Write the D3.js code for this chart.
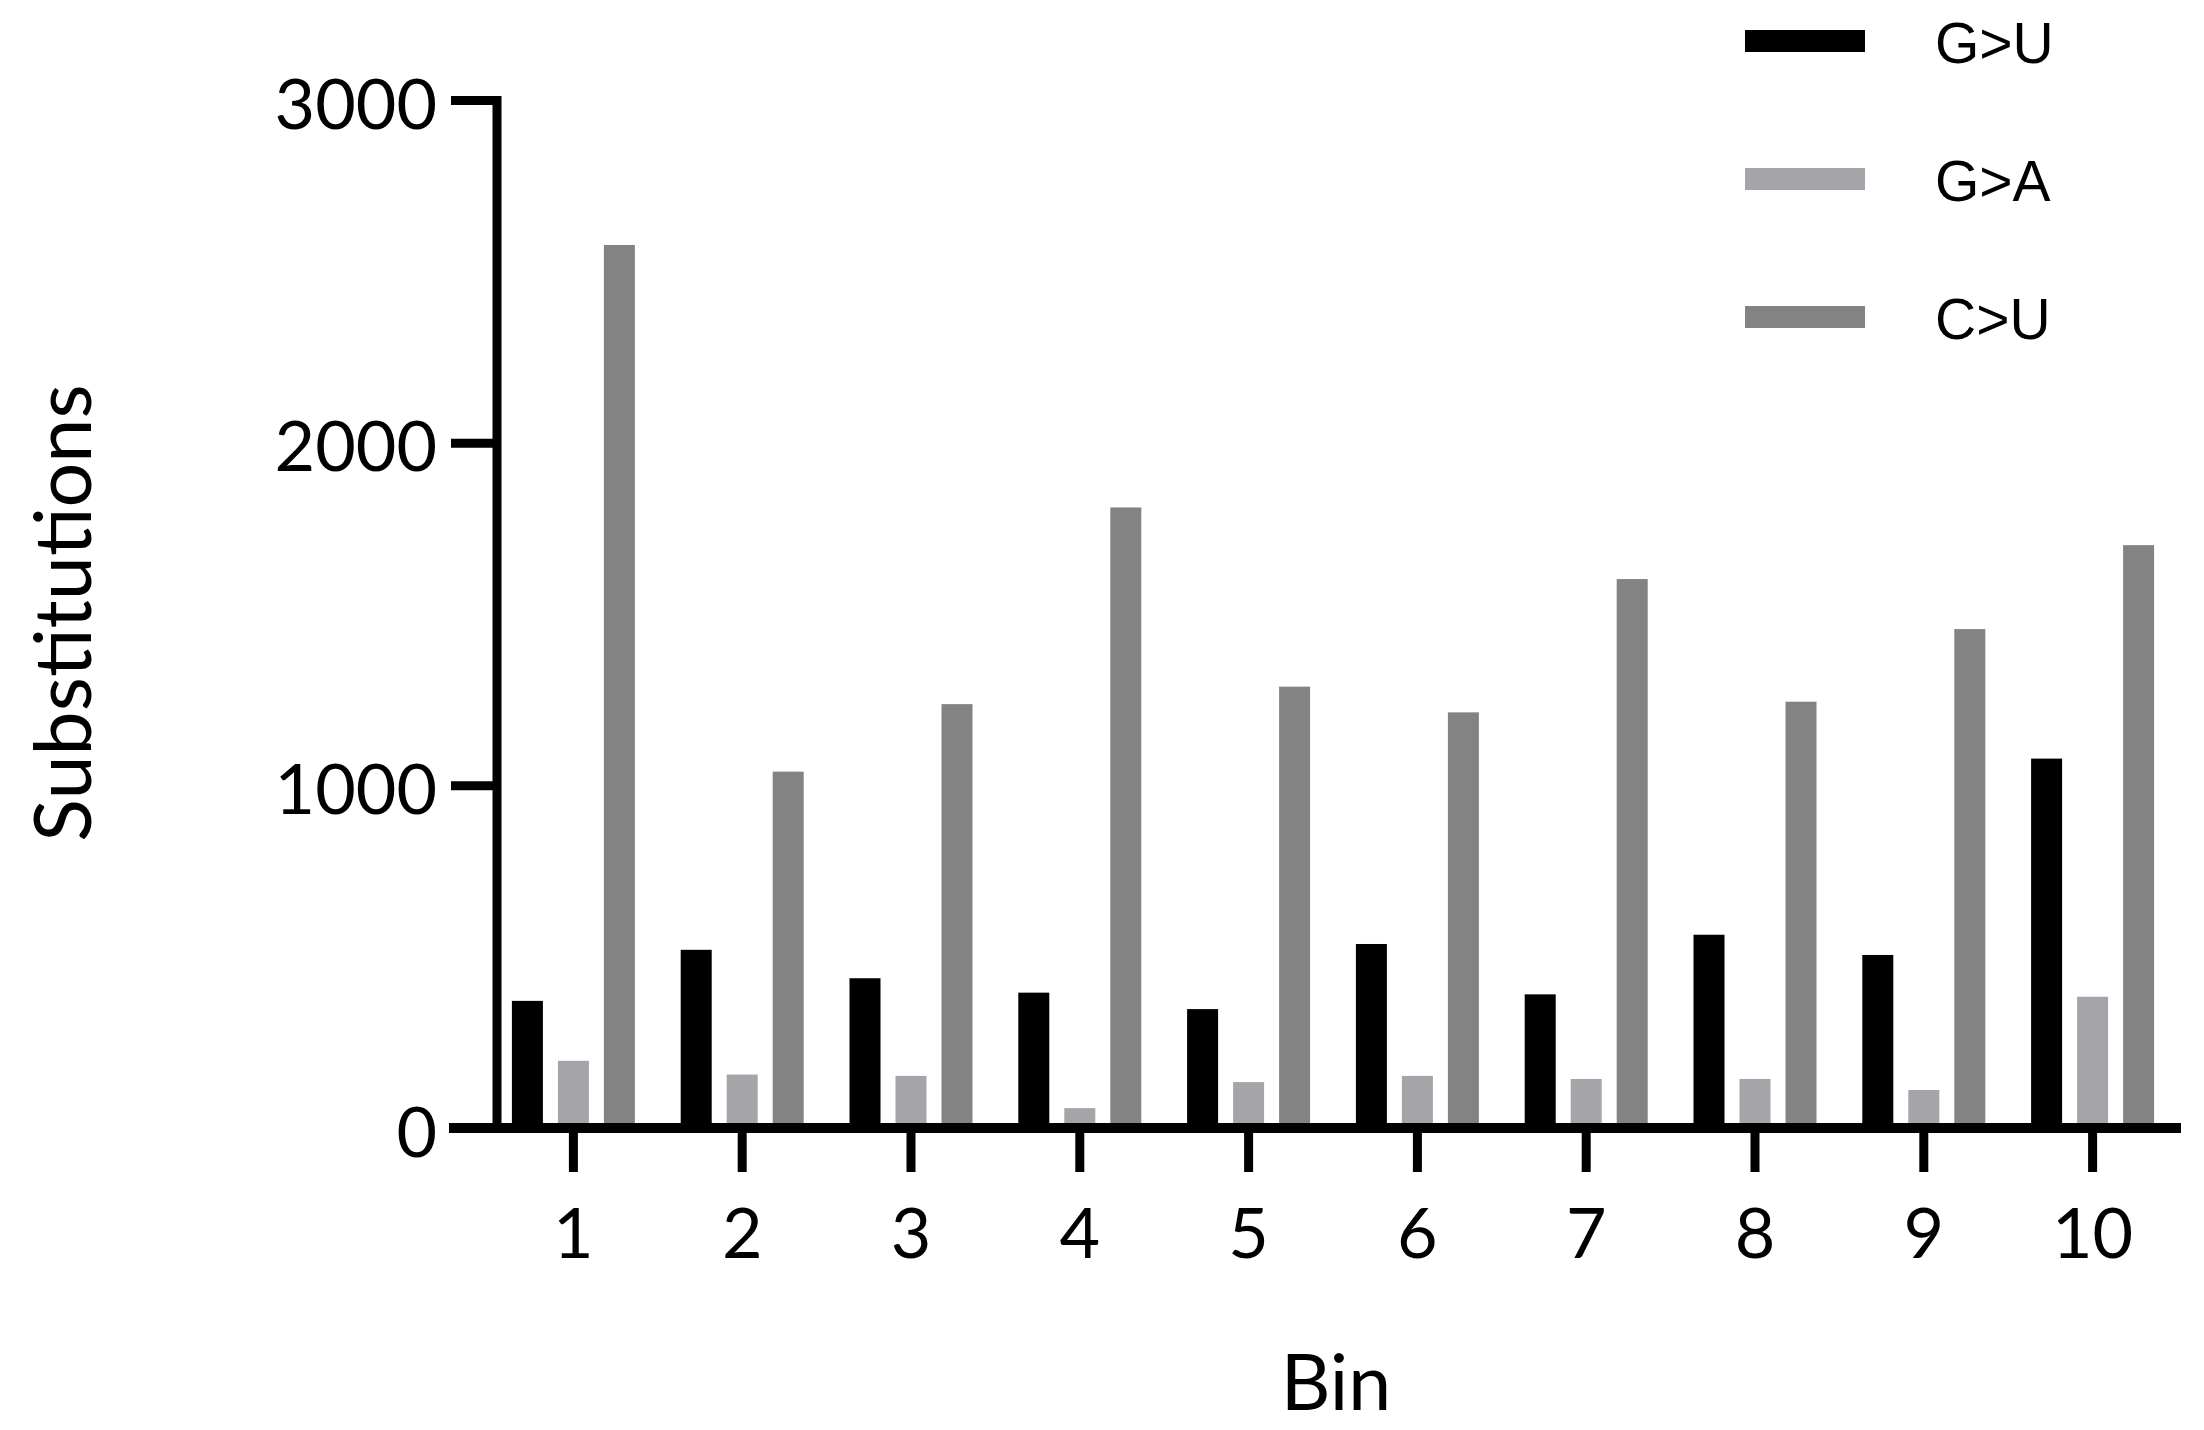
<!DOCTYPE html>
<html>
<head>
<meta charset="utf-8">
<script src="https://cdn.jsdelivr.net/npm/d3@7"></script>
<style>
  body { margin: 0; background: #fff; }
</style>
</head>
<body>
<div id="chart"></div>
<script>
// values
var bins = ["1", "2", "3", "4", "5", "6", "7", "8", "9", "10"];
var seriesNames = ["G>U", "G>A", "C>U"];
var seriesColors = ["#000000", "#a5a5a9", "#838383"];
var gToU = [371, 520, 437, 395, 347, 537, 390, 564, 505, 1078];
var gToA = [196, 156, 152, 58, 134, 152, 143, 143, 111, 383];
var cToU = [2577, 1040, 1237, 1811, 1288, 1213, 1602, 1244, 1456, 1701];
var yTicks = [0, 1000, 2000, 3000];

function init() {
    var width = 2204;
    var height = 1430;
    var axisX = 497;
    var axisY = 1128;

    var svg = d3.select("#chart")
        .append("svg")
        .attr("width", width)
        .attr("height", height);

    var x = d3.scaleBand()
        .domain(bins)
        .range([489, 2177]);

    var xInner = d3.scaleBand()
        .domain(seriesNames)
        .range([x.bandwidth() / 2 - 69, x.bandwidth() / 2 + 69])
        .paddingInner(0.326)
        .paddingOuter(0.163);

    var y = d3.scaleLinear()
        .domain([0, 3000])
        .range([axisY, 100]);

    var color = d3.scaleOrdinal()
        .domain(seriesNames)
        .range(seriesColors);

    var seriesValues = [gToU, gToA, cToU];
    var rows = [];
    bins.forEach(function (b, i) {
        seriesNames.forEach(function (s, j) {
            rows.push({ bin: b, series: s, value: seriesValues[j][i] });
        });
    });

    // bars
    svg.append("g")
        .selectAll("rect")
        .data(rows)
        .enter()
        .append("rect")
        .attr("x", d => x(d.bin) + xInner(d.series))
        .attr("width", xInner.bandwidth())
        .attr("y", d => y(d.value))
        .attr("height", d => y(0) - y(d.value))
        .attr("fill", d => color(d.series));

    // y axis
    var yAxis = svg.append("g")
        .attr("transform", "translate(" + axisX + ",0)")
        .call(d3.axisLeft(y).tickValues(yTicks).tickFormat(d3.format("d")).tickSize(46).tickPadding(14));
    yAxis.select(".domain").remove();
    yAxis.selectAll(".tick line").attr("stroke", "#000").attr("stroke-width", 9);
    yAxis.selectAll(".tick text")
        .attr("font-family", "Lato, 'Open Sans', sans-serif")
        .attr("font-size", 70)
        .attr("fill", "#000")
        .attr("dy", "0.4em");
    svg.append("line")
        .attr("x1", axisX).attr("x2", axisX)
        .attr("y1", y(3000) - 4).attr("y2", axisY + 5)
        .attr("stroke", "#000")
        .attr("stroke-width", 9);

    // x axis
    var xAxis = svg.append("g")
        .attr("transform", "translate(0," + axisY + ")")
        .call(d3.axisBottom(x).tickSize(44).tickPadding(36));
    xAxis.select(".domain").remove();
    xAxis.selectAll(".tick line").attr("stroke", "#000").attr("stroke-width", 9);
    xAxis.selectAll(".tick text")
        .attr("font-family", "Lato, 'Open Sans', sans-serif")
        .attr("font-size", 70)
        .attr("fill", "#000");
    svg.append("line")
        .attr("x1", 449).attr("x2", 2181)
        .attr("y1", axisY).attr("y2", axisY)
        .attr("stroke", "#000")
        .attr("stroke-width", 10);

    // axis titles
    svg.append("text")
        .attr("x", 1336)
        .attr("y", 1410)
        .attr("text-anchor", "middle")
        .attr("font-family", "Lato, 'Open Sans', sans-serif")
        .attr("font-size", 77)
        .text("Bin");

    svg.append("text")
        .attr("transform", "translate(91,613) rotate(-90)")
        .attr("text-anchor", "middle")
        .attr("font-family", "Lato, 'Open Sans', sans-serif")
        .attr("font-size", 79)
        .text("Substitutions");

    // legend
    var legend = svg.append("g")
        .selectAll("g")
        .data(seriesNames)
        .enter()
        .append("g")
        .attr("transform", (d, i) => "translate(1745," + (41 + i * 138) + ")");

    legend.append("rect")
        .attr("x", 0)
        .attr("y", -11)
        .attr("width", 120)
        .attr("height", 22)
        .attr("fill", d => color(d));

    legend.append("text")
        .attr("x", 190)
        .attr("y", 22)
        .attr("font-family", "'Liberation Sans', Arial, sans-serif")
        .attr("font-size", 57)
        .attr("fill", "#000")
        .text(d => d);
}

window.onload = init;
</script>
</body>
</html>
